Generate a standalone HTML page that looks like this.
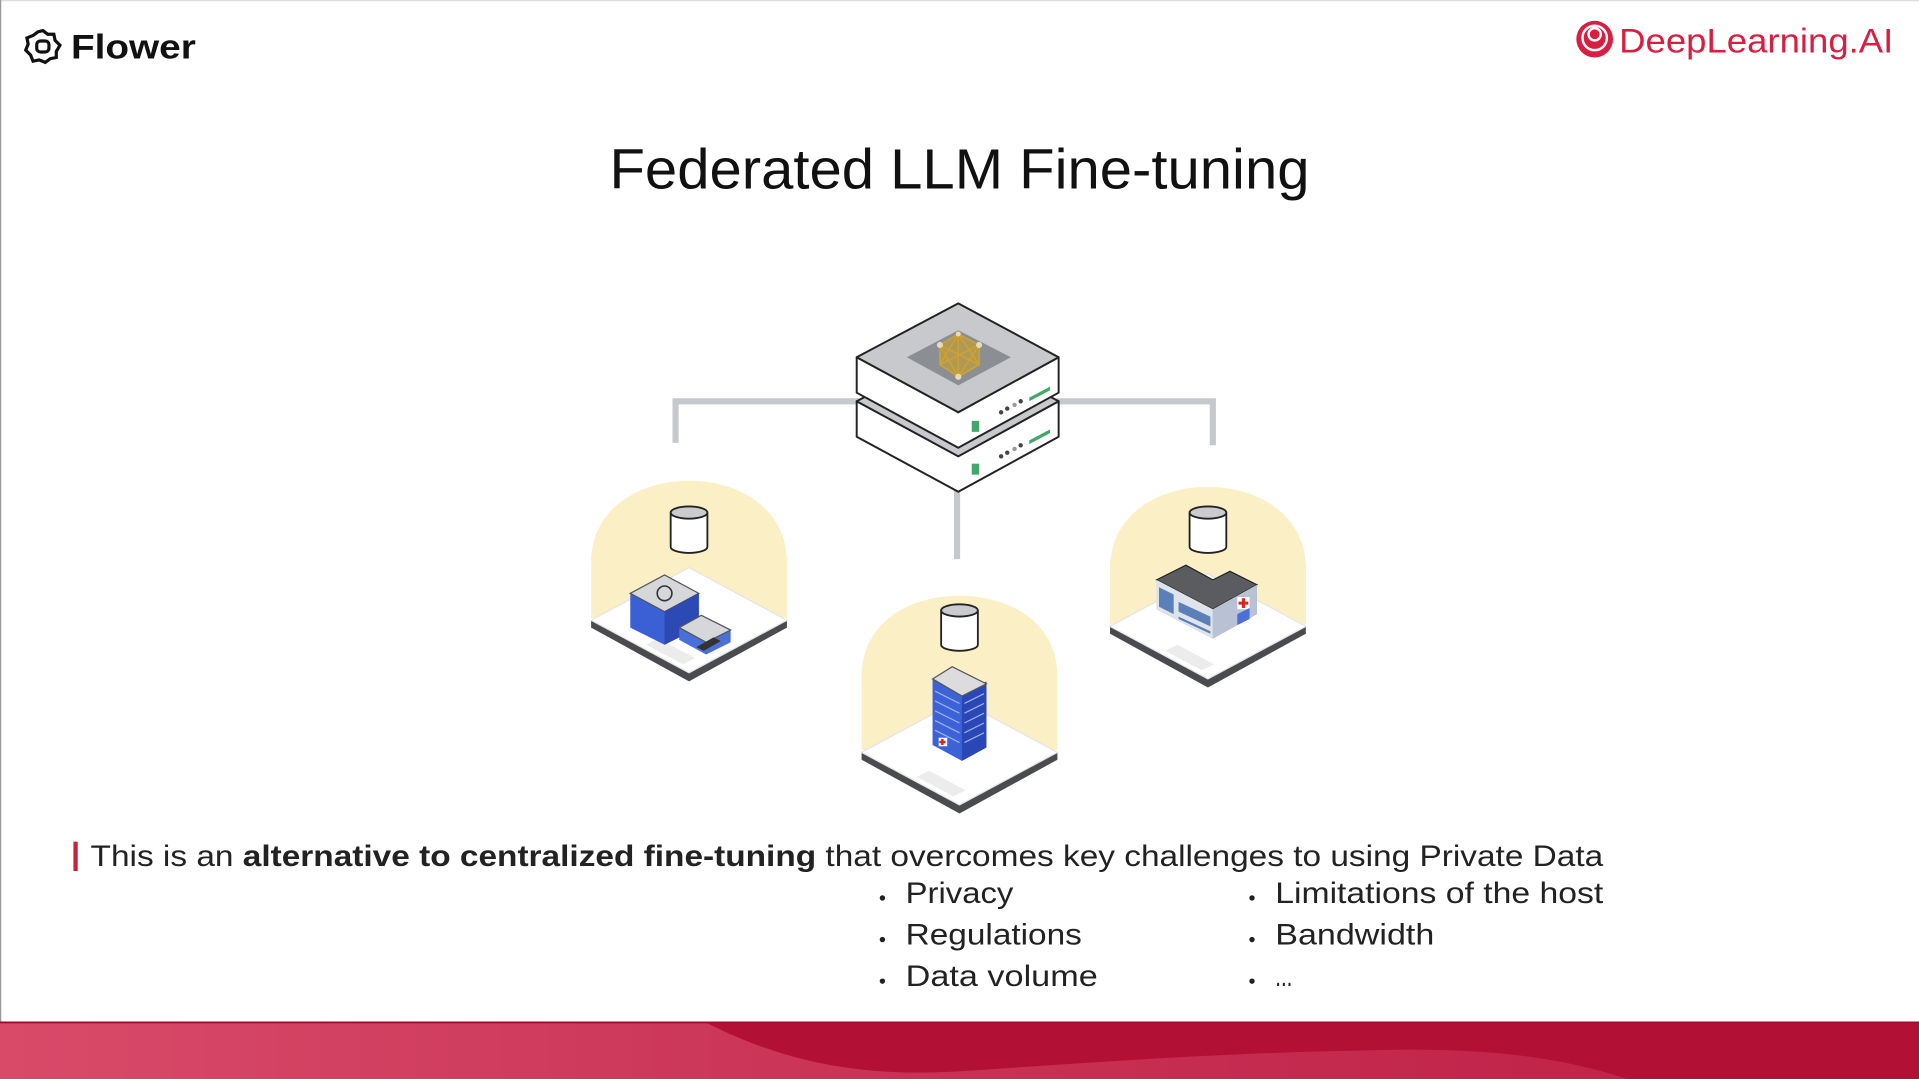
<!DOCTYPE html>
<html><head><meta charset="utf-8"><style>
html,body{margin:0;padding:0;background:#fff;}
svg{display:block;}
</style></head><body>
<svg width="1919" height="1079" viewBox="0 0 1568 882" preserveAspectRatio="none" xmlns="http://www.w3.org/2000/svg">
<defs>
<linearGradient id="band" x1="0" x2="1" y1="0" y2="0">
<stop offset="0" stop-color="#d94a69"/><stop offset="0.45" stop-color="#c93356"/><stop offset="1" stop-color="#be1d44"/>
</linearGradient>
<g id="dome">
<path d="M-80,0 L-80,-45 C-80,-90 -40,-112 0,-112 C40,-112 80,-90 80,-45 L80,0 Z" fill="#fbefc6"/>
<path d="M-80,2 L0,45 L80,2 L80,8 L0,52 L-80,8 Z" fill="#4a4b4e"/>
<path d="M-80,2 L0,-41 L80,2 L0,45 Z" fill="#fff" stroke="#e4e4e4" stroke-width="1"/>
<path d="M-35,22 L-5,38 L5,33 L-25,17 Z" fill="#ececec"/>
</g>
<g id="cyl">
<path d="M-15,-14 L-15,14 A15,5 0 0 0 15,14 L15,-14" fill="#fff" stroke="#222" stroke-width="1.5"/>
<ellipse cx="0" cy="-14" rx="15" ry="5" fill="#c9cbce" stroke="#222" stroke-width="1.5"/>
</g>
</defs>
<rect width="1568" height="882" fill="#fff"/>
<rect x="0" y="0" width="1568" height="1" fill="#ddd"/>
<rect x="0" y="0" width="1" height="835" fill="#999"/>

<!-- Flower logo -->
<g transform="translate(35,38)" fill="none" stroke="#111" stroke-width="2.6">
<path d="M0,-13 L4,-10 L9,-10 L10,-5 L14,-1 L11,4 L11,9 L6,10 L2,13 L-3,11 L-8,12 L-10,7 L-14,3 L-12,-2 L-13,-7 L-8,-9 L-4,-12 Z"/>
<rect x="-5" y="-4.5" width="10" height="9" rx="3"/>
</g>
<text x="58" y="48" font-family="Liberation Sans, sans-serif" font-size="28" font-weight="bold" fill="#111" textLength="102" lengthAdjust="spacingAndGlyphs">Flower</text>

<!-- DeepLearning.AI -->
<g transform="translate(1303,32)">
<circle r="15" fill="#d81e41"/>
<circle cx="0" cy="-1" r="10" fill="none" stroke="#fff" stroke-width="2"/>
<circle cx="0" cy="-4" r="5" fill="none" stroke="#fff" stroke-width="2"/>
</g>
<text x="1323" y="43" font-family="Liberation Sans, sans-serif" font-size="28" fill="#d81e41" textLength="224" lengthAdjust="spacingAndGlyphs">DeepLearning.AI</text>

<!-- Title -->
<text x="784" y="154" text-anchor="middle" font-family="Liberation Sans, sans-serif" font-size="46" fill="#111" textLength="572" lengthAdjust="spacingAndGlyphs">Federated LLM Fine-tuning</text>

<!-- connectors -->
<g stroke="#c5c8cc" stroke-width="5" fill="none">
<path d="M552,362 L552,328 L702,328"/>
<path d="M863,328 L991,328 L991,364"/>
<path d="M782,400 L782,457"/>
</g>

<!-- server -->
<g stroke="#222" stroke-width="1.6" stroke-linejoin="round">
<path d="M700,328 L783,373 L865,328 L865,357 L783,402 L700,357 Z" fill="#fff"/>
<path d="M700,328 L783,284 L865,328 L783,373 Z" fill="#c7c9cc"/>
<path d="M700,292 L783,337 L865,292 L865,321 L783,366 L700,321 Z" fill="#fff"/>
<path d="M700,292 L783,248 L865,292 L783,337 Z" fill="#c7c9cc"/>
</g>
<path d="M741,292 L783,270 L826,292 L783,315 Z" fill="#8b8e92"/>
<g stroke="#d4a72a" stroke-width="1.2" fill="none">
<path d="M768,282 L783,273 L800,282 L800,298 L783,308 L768,298 Z M768,282 L800,298 M800,282 L768,298 M783,273 L783,308 M768,282 L783,308 L800,282 M768,298 L783,273 L800,298"/>
</g>
<path d="M768,282 L783,273 L800,282 L800,298 L783,308 L768,298 Z" fill="#c9a030" opacity="0.6"/>
<g fill="#e8dcb8"><circle cx="768" cy="282" r="2.5"/><circle cx="800" cy="282" r="2.5"/><circle cx="783" cy="308" r="2.5"/><circle cx="783" cy="273" r="2"/></g>
<g fill="#3fa86a">
<path d="M841,325 L858,316 L858,319 L841,328 Z"/><rect x="794" y="344" width="6" height="9"/>
<path d="M841,360 L858,351 L858,354 L841,363 Z"/><rect x="794" y="379" width="6" height="9"/>
</g>
<g fill="#444"><circle cx="818" cy="337" r="1.8"/><circle cx="823" cy="334" r="1.8"/><circle cx="829" cy="331" r="1.8" fill="#999"/><circle cx="834" cy="328" r="1.8"/>
<circle cx="818" cy="373" r="1.8"/><circle cx="823" cy="370" r="1.8"/><circle cx="829" cy="367" r="1.8" fill="#999"/><circle cx="834" cy="364" r="1.8"/></g>

<!-- left node -->
<g transform="translate(563,505)">
<use href="#dome"/>
<use href="#cyl" transform="translate(0,-72)"/>
<path d="M-48,-20 L-20,-35 L8,-20 L8,8 L-20,22 L-48,8 Z" fill="#3b5fd4"/>
<path d="M-48,-20 L-20,-35 L8,-20 L-20,-5 Z" fill="#d6d7da" stroke="#555"/>
<path d="M-20,-5 L8,-20 L8,8 L-20,22 Z" fill="#2c49b5"/>
<circle cx="-20" cy="-20" r="6" fill="none" stroke="#333" stroke-width="1.3"/>
<path d="M-8,8 L10,-2 L34,10 L34,20 L14,30 L-8,18 Z" fill="#4a6fd8"/>
<path d="M-8,8 L10,-2 L34,10 L14,20 Z" fill="#d6d7da" stroke="#555"/>
<path d="M6,24 L20,16 L26,19 L12,27 Z" fill="#333"/>
</g>

<!-- middle node -->
<g transform="translate(784,613)">
<path d="M-80,0 L-80,-60 C-80,-105 -40,-126 0,-126 C40,-126 80,-105 80,-60 L80,0 Z" fill="#fbefc6"/>
<use href="#dome"/>
<use href="#cyl" transform="translate(0,-100)"/>
<path d="M-22,-58 L-6,-67 L8,-60 L22,-52 L22,-2 L2,9 L-22,-4 Z" fill="#3c62d8"/>
<path d="M2,-46 L22,-56 L22,-2 L2,9 Z" fill="#2a47b8"/>
<path d="M-22,-58 L-6,-68 L22,-54 L2,-44 Z" fill="#dcdcde" stroke="#555"/>
<g stroke="#9db0ee" stroke-width="1">
<path d="M-20,-48 L0,-38 M-20,-40 L0,-30 M-20,-32 L0,-22 M-20,-24 L0,-14 M-20,-16 L0,-6 M4,-38 L20,-46 M4,-30 L20,-38 M4,-22 L20,-30 M4,-14 L20,-22 M4,-6 L20,-14"/>
</g>
<rect x="-17" y="-10" width="7" height="7" fill="#fff"/><path d="M-14,-9 v5 M-16.5,-6.5 h5" stroke="#d22" stroke-width="2"/>
</g>

<!-- right node -->
<g transform="translate(987,510)">
<path d="M-80,0 L-80,-45 C-80,-88 -40,-110 0,-110 C40,-110 80,-88 80,-45 L80,0 Z" fill="#fbefc6"/>
<use href="#dome"/>
<use href="#cyl" transform="translate(0,-77)"/>
<path d="M-42,-36 L-18,-48 L4,-36 L18,-43 L40,-32 L40,-8 L4,12 L-42,-12 Z" fill="#6f8fc0"/>
<path d="M-42,-36 L-18,-48 L4,-36 L18,-43 L40,-32 L4,-12 Z" fill="#5a5c60" stroke="#222"/>
<path d="M4,-12 L40,-32 L40,-8 L4,12 Z" fill="#b8c2d4"/>
<path d="M-42,-36 L4,-12 L4,12 L-42,-12 Z" fill="#dfe3ea"/>
<path d="M-40,-30 L-28,-24 L-28,-8 L-40,-14 Z M-24,-18 L2,-6 L2,2 L-24,-10 Z M-24,-4 L2,8 L2,6 L-24,-6 Z" fill="#5b7fb8"/>
<rect x="24" y="-22" width="10" height="10" fill="#fff"/><path d="M29,-21 v8 M25,-17 h8" stroke="#d22" stroke-width="2.5"/>
<path d="M24,-8 L34,-13 L34,-4 L24,1 Z" fill="#4a6fd8"/>
</g>

<!-- text -->
<rect x="60" y="688" width="3.5" height="24" fill="#c8203f"/>
<text x="74" y="708" font-family="Liberation Sans, sans-serif" font-size="24" fill="#222" textLength="1236" lengthAdjust="spacingAndGlyphs">This is an <tspan font-weight="bold">alternative to centralized fine-tuning</tspan> that overcomes key challenges to using Private Data</text>
<g font-family="Liberation Sans, sans-serif" font-size="24" fill="#222" lengthAdjust="spacingAndGlyphs">
<circle cx="721" cy="734" r="2.2"/><text x="740" y="738" textLength="88" lengthAdjust="spacingAndGlyphs">Privacy</text>
<circle cx="721" cy="768" r="2.2"/><text x="740" y="772" textLength="144" lengthAdjust="spacingAndGlyphs">Regulations</text>
<circle cx="721" cy="802" r="2.2"/><text x="740" y="806" textLength="157" lengthAdjust="spacingAndGlyphs">Data volume</text>
<circle cx="1023" cy="734" r="2.2"/><text x="1042" y="738" textLength="268" lengthAdjust="spacingAndGlyphs">Limitations of the host</text>
<circle cx="1023" cy="768" r="2.2"/><text x="1042" y="772" textLength="130" lengthAdjust="spacingAndGlyphs">Bandwidth</text>
<circle cx="1023" cy="802" r="2.2"/><text x="1042" y="806" textLength="14" lengthAdjust="spacingAndGlyphs">...</text>
</g>

<!-- bottom band -->
<rect x="0" y="835" width="1568" height="47" fill="url(#band)"/>
<path d="M575,835 C640,868 700,880 780,876 C900,868 1000,860 1150,858 C1230,858 1280,866 1330,882 L1568,882 L1568,835 Z" fill="#b31035"/>
<rect x="0" y="835" width="1568" height="1.5" fill="#9a0d2c"/>
</svg>
</body></html>
